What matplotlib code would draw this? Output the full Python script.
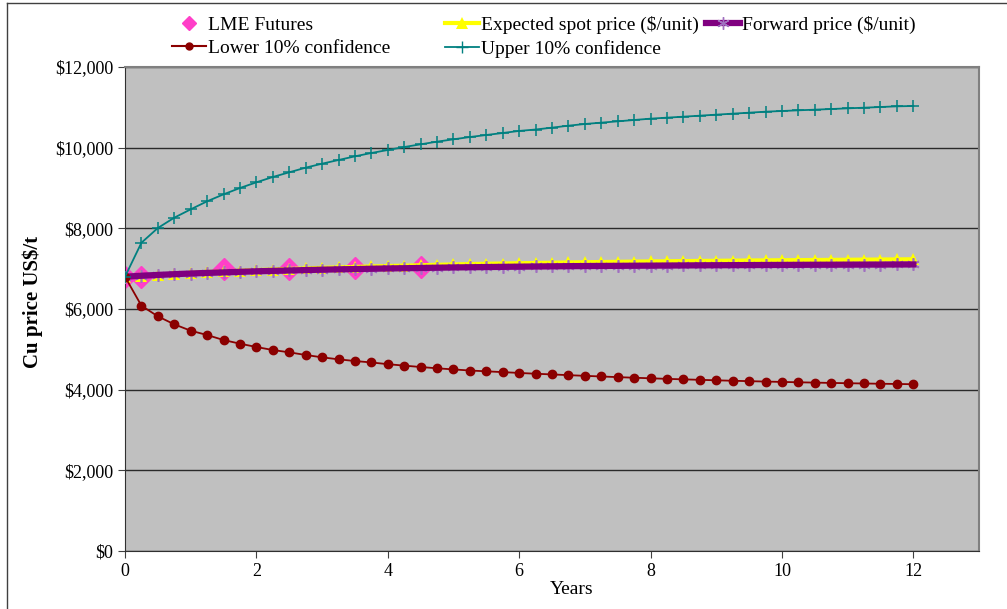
import numpy as np
import matplotlib
matplotlib.use("Agg")
import matplotlib.pyplot as plt
from matplotlib.lines import Line2D
from matplotlib.ticker import FuncFormatter, MultipleLocator

plt.rcParams['font.family'] = ['Liberation Serif', 'DejaVu Serif']

# quarterly time steps, 0 to 12 years
years = np.arange(49) * 0.25

lme_years = [0, 0.25, 1.5, 2.5, 3.5, 4.5]
lme_futures = [6800, 6790, 6990, 7000, 7020, 7040]

expected_spot = [6800, 6828, 6852, 6875, 6895, 6914, 6932, 6949, 6965, 6979,
                 6993, 7007, 7020, 7032, 7043, 7054, 7065, 7075, 7085, 7095,
                 7105, 7113, 7121, 7128, 7135, 7141, 7148, 7154, 7160, 7165,
                 7170, 7175, 7180, 7184, 7188, 7192, 7196, 7199, 7203, 7206,
                 7209, 7212, 7215, 7218, 7221, 7224, 7227, 7230, 7233]

forward = [6800, 6825, 6845, 6863, 6880, 6895, 6908, 6922, 6935, 6945,
           6955, 6965, 6975, 6983, 6990, 6998, 7005, 7011, 7017, 7024,
           7030, 7035, 7040, 7045, 7050, 7054, 7058, 7062, 7065, 7068,
           7070, 7073, 7075, 7078, 7080, 7083, 7085, 7087, 7089, 7091,
           7093, 7095, 7097, 7098, 7100, 7101, 7102, 7104, 7105]

lower = [6800, 6082, 5818, 5620, 5462, 5355, 5231, 5140, 5058, 4983,
         4926, 4860, 4802, 4752, 4710, 4675, 4632, 4596, 4562, 4530,
         4502, 4475, 4455, 4435, 4415, 4395, 4378, 4360, 4343, 4327,
         4311, 4296, 4282, 4268, 4256, 4244, 4232, 4221, 4211, 4201,
         4192, 4183, 4175, 4167, 4160, 4153, 4147, 4141, 4135]

upper = [6800, 7643, 8008, 8264, 8471, 8670, 8843, 9000, 9141, 9273,
         9389, 9504, 9603, 9694, 9785, 9868, 9942, 10016, 10083, 10149,
         10207, 10264, 10314, 10364, 10415, 10450, 10496, 10545, 10587, 10620,
         10653, 10686, 10719, 10744, 10768, 10793, 10818, 10843, 10867, 10892,
         10909, 10926, 10942, 10958, 10975, 10991, 11008, 11025, 11033]

c_lme = '#FF3FC8'
c_exp = '#FFFF00'
c_fwd = '#800080'
c_fwd_m = '#A070C0'
c_low = '#8B0000'
c_up = '#008080'
star = (6, 2, 0)

W, H = 1007, 609
fig = plt.figure(figsize=(W/100, H/100), dpi=100)
ax = fig.add_axes([125/W, 1-551/H, (979-125)/W, (551-67)/H])
ax.set_facecolor('#C0C0C0')

ax.plot(lme_years, lme_futures, linestyle='none', marker='D', markersize=11,
        color=c_lme, zorder=2)
ax.plot(years, expected_spot, color=c_exp, lw=3, marker='^', markersize=8,
        markeredgewidth=0, zorder=3)
ax.plot(years, forward, color=c_fwd, lw=4.5, zorder=4)
ax.plot(years, forward, linestyle='none', marker=star, markersize=9,
        markeredgecolor=c_fwd_m, markeredgewidth=1.2, zorder=3.5)
ax.plot(years, lower, color=c_low, lw=1.3, marker='o', markersize=6, zorder=5)
ax.plot(years, upper, color=c_up, lw=1.3, marker='+', markersize=8,
        markeredgewidth=1.1, zorder=5)

ax.set_xlim(0, 13)
ax.set_ylim(0, 12000)
ax.xaxis.set_major_locator(MultipleLocator(2))
ax.yaxis.set_major_locator(MultipleLocator(2000))
ax.yaxis.set_major_formatter(FuncFormatter(lambda v, p: '\\$' + format(int(v), ',')))
ax.grid(axis='y', color='#2a2a2a', lw=1)
ax.set_axisbelow(True)
ax.tick_params(labelsize=13, length=5, color='#404040')

for s in ['top', 'right']:
    ax.spines[s].set_color('#808080')
    ax.spines[s].set_linewidth(1.5)
for s in ['left', 'bottom']:
    ax.spines[s].set_color('#303030')

ax.set_xlabel('Years', fontsize=14)
ax.xaxis.set_label_coords((572-125)/(979-125), -(581-551)/(551-67), transform=ax.transAxes)
ax.set_ylabel('Cu price US\\$/t', fontsize=15, fontweight='bold')
ax.yaxis.set_label_coords(-(125-43)/(979-125), (551-302)/(551-67), transform=ax.transAxes)

h_lme = Line2D([], [], linestyle='none', marker='D', markersize=7, color=c_lme)
h_low = Line2D([], [], color=c_low, lw=1.5, marker='o', markersize=5)
h_exp = Line2D([], [], color=c_exp, lw=3, marker='^', markersize=9, markeredgewidth=0)
h_up = Line2D([], [], color=c_up, lw=1.3, marker='+', markersize=8)
h_fwd = Line2D([], [], color=c_fwd, lw=4.5, marker=star, markersize=9,
               markeredgecolor=c_fwd_m)

legend_cols = [
    (172, [h_lme, h_low], ['LME Futures', 'Lower 10% confidence']),
    (445, [h_exp, h_up], ['Expected spot price (\\$/unit)', 'Upper 10% confidence']),
    (706, [h_fwd], ['Forward price (\\$/unit)']),
]
for x0, hs, ls in legend_cols:
    fig.legend(hs, ls, loc='upper left', bbox_to_anchor=(x0/W, 1-16/H),
               frameon=False, fontsize=14, handlelength=1.75, handletextpad=0.1,
               labelspacing=0.3, borderaxespad=0, borderpad=0)

# chart border fragments visible in the screenshot
fig.add_artist(Line2D([7/W, 1], [1-3/H, 1-3/H], color='#404040', lw=1))
fig.add_artist(Line2D([7/W, 7/W], [0, 1-3/H], color='#404040', lw=1))

fig.savefig('out.png', dpi=100)
